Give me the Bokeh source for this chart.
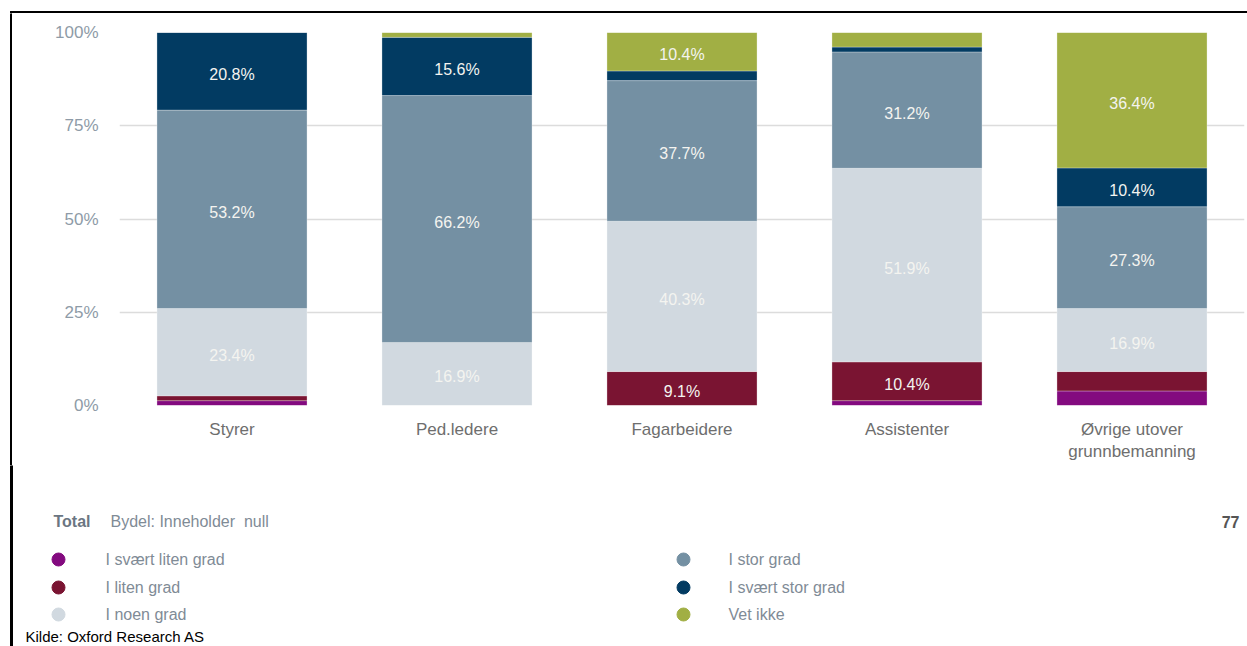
from bokeh.plotting import figure
from bokeh.models import ColumnDataSource, FixedTicker, Range1d
from bokeh.layouts import column, row
from bokeh.core.properties import value
from bokeh.embed import file_html
from bokeh.resources import INLINE

# ---- data ----
categories = ["Styrer", "Ped.ledere", "Fagarbeidere", "Assistenter", "Øvrige utover\ngrunnbemanning"]
series_names = ["I svært liten grad", "I liten grad", "I noen grad", "I stor grad", "I svært stor grad", "Vet ikke"]
svaert_liten = [1.3, 0.0, 0.0, 1.3, 3.9]
liten = [1.3, 0.0, 9.1, 10.4, 5.2]
noen = [23.4, 16.9, 40.3, 51.9, 16.9]
stor = [53.2, 66.2, 37.7, 31.2, 27.3]
svaert_stor = [20.8, 15.6, 2.6, 1.3, 10.4]
vet_ikke = [0.0, 1.3, 10.4, 3.9, 36.4]
y_ticks = [0, 25, 50, 75, 100]
y_tick_labels = ["0%", "25%", "50%", "75%", "100%"]
filter_title = "Total"
filter_text = "Bydel: Inneholder\u00a0 null"
n_total = "77"
source_text = "Kilde: Oxford Research AS"

colors = ["#830A7F", "#7A1432", "#D1D9E0", "#7490A3", "#023B62", "#A1AF44"]
keys = ["svaert_liten", "liten", "noen", "stor", "svaert_stor", "vet_ikke"]
series = [svaert_liten, liten, noen, stor, svaert_stor, vet_ikke]

FONT = value("Liberation Sans")
PW, PH = 1247, 646
TOP_H = 13        # strip holding the black top rule
LEFT_W = 12       # strip holding the black left rule
MAIN_W = PW - LEFT_W
MAIN_H = 452
BOT_H = PH - TOP_H - MAIN_H


def bare(w, h, xr, yr):
    f = figure(width=w, height=h, x_range=xr, y_range=yr, output_backend="svg",
               toolbar_location=None, min_border=0)
    f.axis.visible = False
    f.grid.visible = False
    f.outline_line_color = None
    f.background_fill_color = "white"
    f.border_fill_color = "white"
    return f


# ---- top rule strip (page coords: x 0..1247, y 0..13) ----
top = bare(PW, TOP_H, Range1d(0, PW), Range1d(TOP_H, 0))
top.quad(left=[10, 10], right=[PW, 25], top=[11, 11], bottom=[13, 14], color="black")

# ---- left rule strip beside the chart ----
left = bare(LEFT_W, MAIN_H, Range1d(0, LEFT_W), Range1d(MAIN_H, 0))
left.quad(left=[10], right=[12], top=[0], bottom=[MAIN_H], color="black")

# ---- main chart ----
src = ColumnDataSource(dict(x=categories, **{k: v for k, v in zip(keys, series)}))
p = figure(x_range=categories, y_range=(0, 100), width=MAIN_W, height=MAIN_H,
           output_backend="svg", toolbar_location=None,
           min_border_left=107, min_border_right=3, min_border_top=19,
           min_border_bottom=MAIN_H - 19 - 373)
p.outline_line_color = None
p.background_fill_color = "white"
p.border_fill_color = "white"

p.vbar_stack(keys, x="x", width=0.667, source=src, color=colors,
             line_color="white", line_width=0.6, line_alpha=0.5)

lx, ly, lt = [], [], []
for i, c in enumerate(categories):
    base = 0.0
    for s in series:
        v = s[i]
        if v >= 9:
            lx.append(c)
            ly.append(base + v / 2)
            lt.append(f"{v:.1f}%")
        base += v
p.text(x=lx, y=ly, text=lt, text_align="center", text_baseline="middle",
       y_offset=3, text_color="#F4F4F0", text_font=FONT, text_font_size="16px")

p.yaxis.ticker = FixedTicker(ticks=y_ticks)
p.yaxis.major_label_overrides = {t: l for t, l in zip(y_ticks, y_tick_labels)}
for ax in (p.xaxis, p.yaxis):
    ax.axis_line_color = None
    ax.major_tick_line_color = None
    ax.minor_tick_line_color = None
    ax.major_label_text_font = "Liberation Sans"
    ax.major_label_text_font_size = "17px"
p.yaxis.major_tick_out = 0
p.yaxis.major_tick_in = 0
p.yaxis.major_label_text_color = "#8E9BA7"
p.yaxis.major_label_standoff = 21
p.xaxis.major_label_text_color = "#6E6E6E"
p.xaxis.major_label_standoff = 8
p.xgrid.grid_line_color = None
p.ygrid.grid_line_color = "#DCDCDC"
p.ygrid.grid_line_width = 1.5

# ---- bottom area: filter line, legend, source (page coords) ----
y0 = TOP_H + MAIN_H
b = bare(PW, BOT_H, Range1d(0, PW), Range1d(PH, y0))
b.quad(left=[10], right=[12], top=[y0], bottom=[PH], color="black")
b.text(x=[53], y=[521], text=[filter_title], text_font=FONT, text_font_size="16px",
       text_font_style="bold", text_color="#6B7682", text_baseline="middle")
b.text(x=[110], y=[521], text=[filter_text], text_font=FONT, text_font_size="16px",
       text_color="#7F8B96", text_baseline="middle")
b.text(x=[1239], y=[521], text=[n_total], text_font=FONT, text_font_size="16px",
       text_font_style="bold", text_color="#555555", text_baseline="middle", text_align="right")

rows_y = [559, 587, 614]
cx = [58 if j < 3 else 683 for j in range(6)]
tx = [105 if j < 3 else 728 for j in range(6)]
ry = [rows_y[j % 3] for j in range(6)]
b.scatter(x=cx, y=ry, size=13, color=colors, marker="circle")
b.text(x=tx, y=ry, text=series_names, text_font=FONT, text_font_size="16px",
       text_color="#7F8B96", text_baseline="middle")
b.text(x=[25], y=[636], text=[source_text], text_font=FONT, text_font_size="15px",
       text_color="#000000", text_baseline="alphabetic")

layout = column(row(top), row(left, column(p)), row(b), spacing=0)

open("out.html", "w").write(file_html(layout, INLINE))
